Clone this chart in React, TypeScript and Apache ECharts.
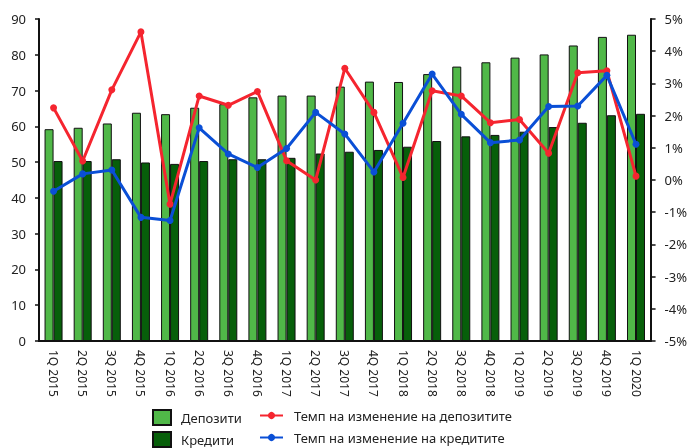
import React, { useEffect, useRef } from "react";
import * as echarts from "echarts";

const categories = [
  "1Q 2015", "2Q 2015", "3Q 2015", "4Q 2015",
  "1Q 2016", "2Q 2016", "3Q 2016", "4Q 2016",
  "1Q 2017", "2Q 2017", "3Q 2017", "4Q 2017",
  "1Q 2018", "2Q 2018", "3Q 2018", "4Q 2018",
  "1Q 2019", "2Q 2019", "3Q 2019", "4Q 2019",
  "1Q 2020",
];

const deposits = [
  59.2, 59.6, 60.8, 63.8, 63.4, 65.2, 66.2, 68.1, 68.6, 68.6, 71.1,
  72.5, 72.4, 74.6, 76.7, 77.9, 79.2, 80.1, 82.6, 85.0, 85.6,
];

const credits = [
  50.3, 50.3, 50.8, 49.9, 49.5, 50.3, 50.8, 50.8, 51.2, 52.4, 52.9,
  53.4, 54.3, 55.9, 57.2, 57.6, 58.5, 59.8, 61.0, 63.1, 63.5,
];

const depositGrowth = [
  2.24, 0.59, 2.8, 4.6, -0.75, 2.61, 2.32, 2.75, 0.6, 0.0, 3.47,
  2.1, 0.08, 2.77, 2.61, 1.78, 1.88, 0.83, 3.33, 3.39, 0.12,
];

const creditGrowth = [
  -0.35, 0.19, 0.31, -1.16, -1.26, 1.62, 0.81, 0.39, 0.98, 2.1, 1.43,
  0.25, 1.76, 3.29, 2.04, 1.16, 1.24, 2.28, 2.3, 3.25, 1.11,
];

const names = {
  dep: "Депозити",
  cred: "Кредити",
  depRate: "Темп на изменение на депозитите",
  credRate: "Темп на изменение на кредитите",
};

const FONT = "Noto Sans";
const TXT = "#222";

function legendItem(name: string, left: number, top: number, line: boolean) {
  return {
    orient: "horizontal",
    left,
    top,
    padding: 0,
    itemWidth: line ? 23 : 18,
    itemHeight: line ? 9 : 15,
    icon: line ? undefined : "rect",
    data: [name],
    textStyle: {
      fontFamily: FONT,
      fontSize: 13,
      color: TXT,
      padding: [0, 0, 0, line ? 6 : 5],
    },
  };
}

export default function App() {
  const ref = useRef<HTMLDivElement>(null);
  useEffect(() => {
    if (!ref.current) return;
    const chart = echarts.init(ref.current, null, { renderer: "svg" });
    chart.setOption({
      animation: false,
      textStyle: { fontFamily: FONT },
      grid: { left: 39, right: 37, top: 19, bottom: 107, containLabel: false },
      legend: [
        legendItem(names.dep, 152, 409, false),
        legendItem(names.cred, 152, 431, false),
        legendItem(names.depRate, 259, 409, true),
        legendItem(names.credRate, 259, 431, true),
      ],
      xAxis: {
        type: "category",
        data: categories,
        axisLine: { lineStyle: { color: "#111", width: 2 } },
        axisTick: { show: false },
        axisLabel: {
          rotate: -90,
          margin: 9,
          fontSize: 12,
          color: TXT,
          fontFamily: FONT,
          interval: 0,
        },
      },
      yAxis: [
        {
          type: "value",
          min: 0,
          max: 90,
          interval: 10,
          position: "left",
          axisLine: { show: true, lineStyle: { color: "#111", width: 2 } },
          axisTick: { show: true, length: 4, lineStyle: { color: "#111", width: 1.5 } },
          axisLabel: { fontSize: 13, color: TXT, margin: 13, fontFamily: FONT },
          splitLine: { show: false },
        },
        {
          type: "value",
          min: -5,
          max: 5,
          interval: 1,
          position: "right",
          axisLine: { show: true, lineStyle: { color: "#111", width: 2 } },
          axisTick: { show: true, length: 5, lineStyle: { color: "#111", width: 1.5 } },
          axisLabel: { fontSize: 13, color: TXT, margin: 14, fontFamily: FONT, formatter: "{value}%" },
          splitLine: { show: false },
        },
      ],
      series: [
        {
          name: names.dep,
          type: "bar",
          data: deposits,
          barWidth: 9,
          barGap: "0%",
          itemStyle: { color: "#50B848", borderColor: "#111", borderWidth: 1 },
          z: 2,
        },
        {
          name: names.cred,
          type: "bar",
          data: credits,
          barWidth: 9,
          barGap: "0%",
          itemStyle: { color: "#075F0A", borderColor: "#111", borderWidth: 1 },
          z: 2,
        },
        {
          name: names.depRate,
          type: "line",
          yAxisIndex: 1,
          data: depositGrowth,
          symbol: "circle",
          symbolSize: 7,
          lineStyle: { color: "#F5252F", width: 3 },
          itemStyle: { color: "#F5252F" },
          z: 5,
        },
        {
          name: names.credRate,
          type: "line",
          yAxisIndex: 1,
          data: creditGrowth,
          symbol: "circle",
          symbolSize: 7,
          lineStyle: { color: "#0A4FD6", width: 3 },
          itemStyle: { color: "#0A4FD6" },
          z: 6,
        },
      ],
    });
    return () => chart.dispose();
  }, []);
  return (
    <div
      ref={ref}
      style={{ position: "fixed", left: 0, top: 0, width: 690, height: 448 }}
    />
  );
}
